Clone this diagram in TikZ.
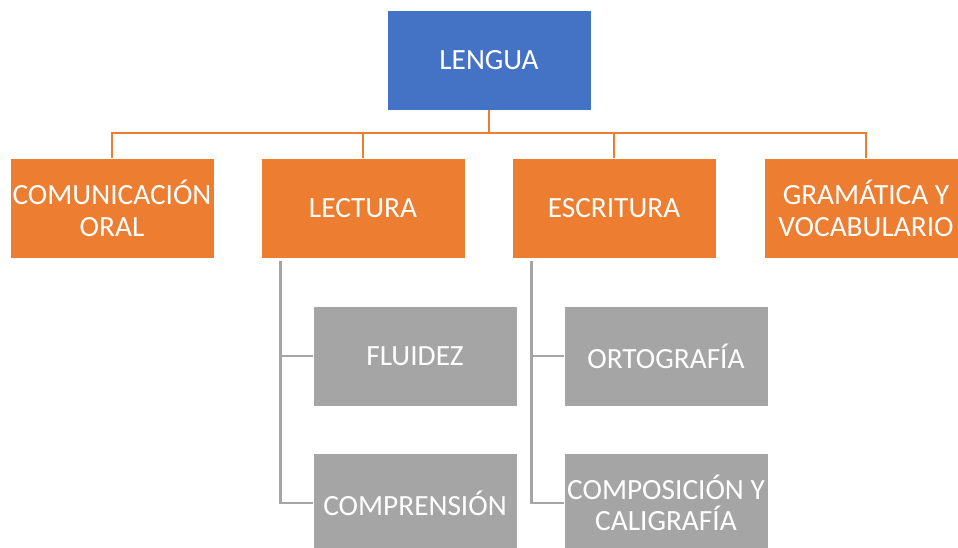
\documentclass[tikz,border=0pt]{standalone}
\usepackage{fontspec}
\setmainfont{Carlito}
\usetikzlibrary{positioning}

\definecolor{azul}{HTML}{4472C4}
\definecolor{naranja}{HTML}{ED7D31}
\definecolor{gris}{HTML}{A5A5A5}

\tikzset{
	caja/.style={rectangle, draw=white, line width=0.4pt, minimum width=153pt, minimum height=75pt, inner sep=0pt, text=white, align=center, font=\fontsize{22}{23.5}\selectfont},
	raiz/.style={caja, fill=azul},
	area/.style={caja, fill=naranja},
	tema/.style={caja, fill=gris},
	rama/.style={naranja, line width=1.9pt},
	subrama/.style={gris, line width=1.9pt}
}

\begin{document}
\begin{tikzpicture}[x=0.75pt,y=-0.75pt]
	\useasboundingbox (0,0) rectangle (958,548);
	\node[raiz] (lengua) at (489,60) {LENGUA};
	\node[area] (oral) at (112,208.5) {COMUNICACIÓN\\ORAL};
	\node[area] (lectura) at (363,208.5) {LECTURA};
	\node[area] (escritura) at (614,208.5) {ESCRITURA};
	\node[area] (gramatica) at (866,208.5) {GRAMÁTICA Y\\VOCABULARIO};
	\node[tema] (fluidez) at (415,356) {FLUIDEZ};
	\node[tema] (comprension) at (415,503) {COMPRENSIÓN};
	\node[tema] (ortografia) at (666,356) {ORTOGRAFÍA};
	\node[tema] (composicion) at (666,503) {COMPOSICIÓN Y\\CALIGRAFÍA};

	% ramas de lengua
	\coordinate (bus) at (489,133);
	\draw[rama] (lengua.south) -- (bus);
	\draw[rama] (oral.north) |- (bus) -| (gramatica.north);
	\draw[rama] (lectura.north) -- (lectura.north |- bus);
	\draw[rama] (escritura.north) -- (escritura.north |- bus);

	% subramas
	\coordinate (lec) at ([xshift=15pt,yshift=-2pt]lectura.south west);
	\coordinate (esc) at ([xshift=15pt,yshift=-2pt]escritura.south west);
	\draw[subrama] (lec) |- (comprension.west);
	\draw[subrama] (fluidez.west) -- (lec |- fluidez.west);
	\draw[subrama] (esc) |- (composicion.west);
	\draw[subrama] (ortografia.west) -- (esc |- ortografia.west);
\end{tikzpicture}
\end{document}
